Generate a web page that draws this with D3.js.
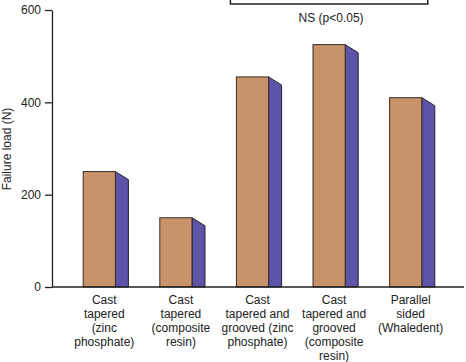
<!DOCTYPE html>
<html>
<head>
<meta charset="utf-8">
<script src="https://cdn.jsdelivr.net/npm/d3@7"></script>
<style>
  body { margin: 0; background: #fff; }
  svg { display: block; font-family: "Liberation Sans", Arial, sans-serif; }
</style>
</head>
<body>
<div class="chart"></div>
<script>
// data
var categories = ["zincTapered", "resinTapered", "zincGrooved", "resinGrooved", "parallel"];
var labelLines = [
    ["Cast", "tapered", "(zinc", "phosphate)"],
    ["Cast", "tapered", "(composite", "resin)"],
    ["Cast", "tapered and", "grooved (zinc", "phosphate)"],
    ["Cast", "tapered and", "grooved", "(composite", "resin)"],
    ["Parallel", "sided", "(Whaledent)"]
];
var failureLoad = [250, 150, 455, 525, 410];
var yTicks = [0, 200, 400, 600];
var yTitle = "Failure load (N)";
var bracketFrom = "zincGrooved";
var bracketTo = "parallel";
var bracketText = "NS (p<0.05)";

var width = 466, height = 362;
var depthX = 13, depthY = 8;

var svg = d3.select('div.chart')
    .append('svg')
    .attr('width', width)
    .attr('height', height);

var y = d3.scaleLinear()
    .domain([0, 600])
    .range([287, 10]);

var x = d3.scaleBand()
    .domain(categories)
    .range([61, 444])
    .paddingInner(0.58)
    .paddingOuter(0.29);

var bw = x.bandwidth();

// side faces (purple)
svg.append('g')
    .selectAll('path')
    .data(failureLoad)
    .enter()
    .append('path')
    .attr('d', function (d, i) {
        var x1 = x(categories[i]) + bw;
        var top = y(d);
        return 'M' + x1 + ',' + top + 'L' + (x1 + depthX) + ',' + (top + depthY) +
            'L' + (x1 + depthX) + ',' + y(0) + 'L' + x1 + ',' + y(0) + 'Z';
    })
    .style('fill', '#5d54a8')
    .style('stroke', '#2a2230')
    .style('stroke-width', 1);

// front faces (tan)
svg.append('g')
    .selectAll('rect')
    .data(failureLoad)
    .enter()
    .append('rect')
    .attr('x', function (d, i) { return x(categories[i]); })
    .attr('y', function (d) { return y(d); })
    .attr('width', bw)
    .attr('height', function (d) { return y(0) - y(d); })
    .style('fill', '#c8926a')
    .style('stroke', '#3a2a22')
    .style('stroke-width', 1);

// y axis
var yAxis = svg.append('g')
    .attr('transform', 'translate(52,0)')
    .call(d3.axisLeft(y).tickValues(yTicks).tickSize(7).tickPadding(4).tickSizeOuter(0));
yAxis.select('.domain').style('stroke', '#222').style('stroke-width', 1.3);
yAxis.selectAll('.tick line').style('stroke', '#222').style('stroke-width', 1.3);
yAxis.selectAll('.tick text')
    .style('font-size', '12px')
    .style('font-family', '"Liberation Sans", Arial, sans-serif')
    .style('fill', '#222');

// x baseline
svg.append('line')
    .attr('x1', 52).attr('x2', 464)
    .attr('y1', y(0)).attr('y2', y(0))
    .style('stroke', '#222')
    .style('stroke-width', 1.3);

// category labels
var labels = svg.append('g')
    .selectAll('text')
    .data(labelLines)
    .enter()
    .append('text')
    .attr('text-anchor', 'middle')
    .style('font-size', '12px')
    .style('fill', '#222');

labels.each(function (lines, i) {
    var cx = x(categories[i]) + bw / 2 + 5;
    d3.select(this).selectAll('tspan')
        .data(lines)
        .enter()
        .append('tspan')
        .attr('x', cx)
        .attr('y', function (d, j) { return 304 + j * 14; })
        .text(function (d) { return d; });
});

// y axis title
svg.append('text')
    .attr('transform', 'translate(11,149) rotate(-90)')
    .attr('text-anchor', 'middle')
    .style('font-size', '12px')
    .style('fill', '#222')
    .text(yTitle);

// significance bracket
var bx1 = x(bracketFrom) - 6;
var bx2 = x(bracketTo) + bw + 6;
svg.append('path')
    .attr('d', 'M' + bx1 + ',-1L' + bx1 + ',4L' + bx2 + ',4L' + bx2 + ',-1')
    .style('fill', 'none')
    .style('stroke', '#222')
    .style('stroke-width', 1.5);

svg.append('text')
    .attr('x', (bx1 + bx2) / 2 + 2)
    .attr('y', 22)
    .attr('text-anchor', 'middle')
    .style('font-size', '12px')
    .style('fill', '#222')
    .text(bracketText);
</script>
</body>
</html>
